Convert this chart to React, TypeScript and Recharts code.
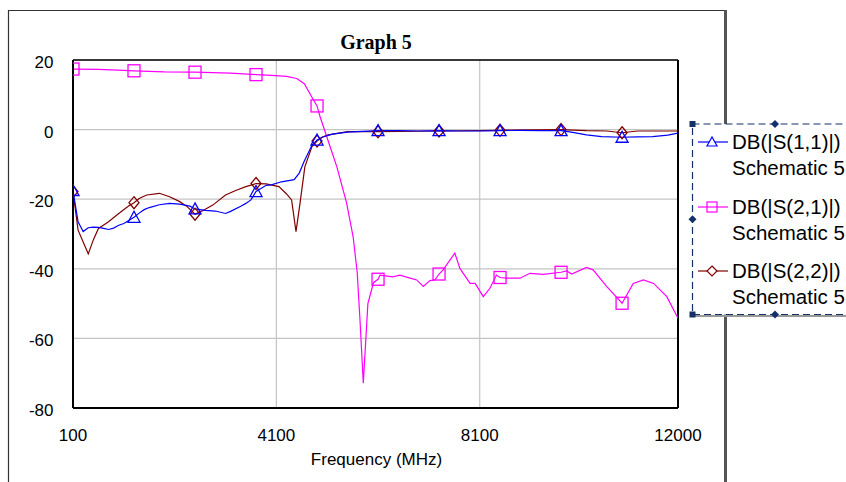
import React from "react";
import {
  LineChart,
  Line,
  XAxis,
  YAxis,
  CartesianGrid,
  ReferenceLine,
} from "recharts";

// frequencies (MHz) and dB values
const s11Freq = [
  100, 200, 300, 400, 500, 600, 700, 800, 900, 1000, 1100, 1300, 1400, 1500,
  1600, 1800, 2000, 2200, 2400, 2500, 2700, 2900, 3100, 3200, 3400, 3500, 3600,
  3700, 3900, 4000, 4200, 4450, 4550, 4650, 4800, 4900, 5000, 5200, 5500, 5800,
  6100, 6500, 6900, 7300, 7700, 8100, 8500, 8900, 9300, 9700, 9900, 10200,
  10500, 10900, 11200, 11500, 11800, 12000,
];
const s11Db = [
  -17.5, -26.5, -29.3, -28.2, -28, -28.1, -28.4, -28.7, -28.3, -27.5, -27,
  -25.2, -24, -23, -22.4, -21.6, -21.2, -21.4, -22, -22.8, -23.2, -23.4, -24.1,
  -23.5, -22, -21.2, -20.2, -17.8, -16, -15.9, -15, -14.4, -12.5, -9, -4.5, -3,
  -2.2, -1.3, -0.7, -0.5, -0.3, -0.3, -0.4, -0.3, -0.4, -0.4, -0.3, -0.2, -0.3,
  -0.3, -0.7, -1.5, -2, -2.2, -2.1, -2, -1.6, -1,
];

const s21Freq = [
  100, 600, 1100, 1300, 1900, 2500, 3200, 3700, 4000, 4300, 4500, 4650, 4830,
  4900, 4960, 5090, 5290, 5480, 5610, 5690, 5745, 5810, 5900, 6010, 6100, 6140,
  6390, 6530, 6730, 6860, 6990, 7120, 7220, 7300, 7380, 7610, 7710, 7910, 8010,
  8170, 8300, 8430, 8500, 8630, 8890, 9090, 9350, 9700, 9810, 9910, 10200,
  10330, 10600, 10900, 11120, 11320, 11520, 11780, 12000,
];
const s21Db = [
  17.4, 17.3, 17.0, 16.9, 16.6, 16.5, 16.2, 15.8, 15.6, 15.3, 14.7, 13.2, 8.5,
  6.8, 3.7, -2, -10.7, -21, -30.8, -41, -54.7, -72.9, -50, -44, -43, -41.8,
  -42.3, -41.8, -42.7, -43.2, -45.1, -43.4, -43.2, -41.5, -40.3, -35.5, -39.9,
  -44.2, -44.2, -48, -45.6, -41.8, -42.5, -42.7, -42.7, -41.3, -41.6, -41,
  -40.6, -41.5, -39.6, -40.3, -45.1, -49.9, -44.2, -43.2, -44.2, -48, -54.2,
];

const s22Freq = [
  100, 200, 400, 500, 600, 800, 1000, 1200, 1300, 1400, 1550, 1800, 2000, 2200,
  2350, 2500, 2650, 2850, 3100, 3300, 3500, 3700, 3900, 4150, 4300, 4400, 4486,
  4565, 4660, 4800, 4900, 5000, 5100, 5500, 6100, 7300, 8500, 9700, 10200,
  10600, 10900, 11200, 12000,
];
const s22Db = [
  -17.8, -28.9, -35.7, -31.7, -28.4, -26.5, -24.1, -21.9, -21, -19.8, -18.8,
  -18.3, -19.3, -20.7, -22.2, -24.3, -23.3, -21.7, -18.8, -17.5, -16.4, -15.5,
  -15.6, -16.4, -18.5, -20.2, -29.3, -21.2, -10.7, -4.9, -3.3, -2.2, -1.6, -0.6,
  -0.6, -0.4, -0.2, 0, -0.3, -0.4, -0.9, -0.4, -0.4,
];

const markerFreqs = [100, 1300, 2500, 3700, 4900, 6100, 7300, 8500, 9700, 10900];
const xTicks = [100, 4100, 8100, 12000];
const yTicks = [-80, -60, -40, -20, 0, 20];

const zip = (fs: number[], vs: number[]) => fs.map((f, i) => ({ f, v: vs[i] }));
const s11 = zip(s11Freq, s11Db);
const s21 = zip(s21Freq, s21Db);
const s22 = zip(s22Freq, s22Db);

const FONT = "'Liberation Sans', Arial, sans-serif";
const BLUE = "#0000ff";
const PINK = "#ff00ff";
const DARKRED = "#800000";
const NAVY = "#14306a";

type Shape = "tri" | "sq" | "dia";

function markerEl(shape: Shape, cx: number, cy: number, color: string, key?: string) {
  if (shape === "tri")
    return (
      <polygon key={key} points={`${cx},${cy - 6} ${cx - 6},${cy + 5} ${cx + 6},${cy + 5}`}
        fill="none" stroke={color} strokeWidth={1.3} />
    );
  if (shape === "sq")
    return (
      <rect key={key} x={cx - 6} y={cy - 6} width={12} height={12}
        fill="none" stroke={color} strokeWidth={1.3} />
    );
  return (
    <polygon key={key} points={`${cx},${cy - 6} ${cx + 5},${cy} ${cx},${cy + 6} ${cx - 5},${cy}`}
      fill="none" stroke={color} strokeWidth={1.3} />
  );
}

const makeDot = (shape: Shape, color: string) => (props: any) => {
  const { cx, cy, payload, index } = props;
  if (!markerFreqs.includes(payload.f)) return <g key={`n${index}`} />;
  return markerEl(shape, cx, cy, color, `m${index}`);
};

const YTick = ({ y, payload }: any) => (
  <text x={53.5} y={y + 8} textAnchor="end" fontSize={17} fontFamily={FONT} fill="#000">
    {payload.value}
  </text>
);

const XTick = ({ x, payload }: any) => (
  <text x={x} y={441} textAnchor="middle" fontSize={17} fontFamily={FONT} fill="#000">
    {payload.value}
  </text>
);

const legendItems = [
  { name: "DB(|S(1,1)|)", color: BLUE, shape: "tri" as Shape, y: 142 },
  { name: "DB(|S(2,1)|)", color: PINK, shape: "sq" as Shape, y: 207 },
  { name: "DB(|S(2,2)|)", color: DARKRED, shape: "dia" as Shape, y: 271 },
];

function Overlay() {
  const lx = 692.5;
  const top = 124;
  const bot = 314.5;
  return (
    <svg width={846} height={482} style={{ position: "absolute", left: 0, top: 0, pointerEvents: "none" }}>
      {/* outer frame */}
      <line x1={8} y1={10.5} x2={726} y2={10.5} stroke="#333" strokeWidth={1.2} />
      <line x1={8.5} y1={10} x2={8.5} y2={482} stroke="#333" strokeWidth={1.2} />
      <line x1={725.5} y1={10} x2={725.5} y2={482} stroke="#555" strokeWidth={3} />
      <text x={376} y={49} textAnchor="middle" fontSize={20} fontWeight="bold"
        fontFamily="'Liberation Serif', 'Times New Roman', serif">Graph 5</text>
      <text x={376.5} y={465} textAnchor="middle" fontSize={17} fontFamily={FONT}>
        Frequency (MHz)
      </text>
      {/* legend box */}
      <rect x={lx} y={top} width={200} height={bot - top} fill="#fff" />
      <line x1={lx} y1={bot + 1.5} x2={846} y2={bot + 1.5} stroke="#999" strokeWidth={2} />
      <rect x={lx} y={top} width={200} height={bot - top} fill="none" stroke={NAVY}
        strokeWidth={1.2} strokeDasharray="7 4" />
      {[top, bot].map((yy) => (
        <rect key={`c${yy}`} x={lx - 3} y={yy - 3} width={6} height={6} fill={NAVY} />
      ))}
      {[[775, top], [lx, (top + bot) / 2], [775, bot]].map(([hx, hy]) => (
        <polygon key={`h${hx}-${hy}`} points={`${hx},${hy - 4} ${hx + 4},${hy} ${hx},${hy + 4} ${hx - 4},${hy}`}
          fill={NAVY} />
      ))}
      {legendItems.map((it) => (
        <g key={it.name}>
          <line x1={698} y1={it.y} x2={728} y2={it.y} stroke={it.color} strokeWidth={1.2} />
          {it.shape === "tri"
            ? <polygon points={`712,${it.y - 5} 707,${it.y + 4} 717,${it.y + 4}`} fill="#fff" stroke={it.color} strokeWidth={1.2} />
            : it.shape === "sq"
            ? <rect x={707} y={it.y - 5} width={10} height={10} fill="none" stroke={it.color} strokeWidth={1.2} />
            : <polygon points={`712,${it.y - 5} 717,${it.y} 712,${it.y + 5} 707,${it.y}`} fill="#fff" stroke={it.color} strokeWidth={1.2} />}
          <text x={732} y={it.y + 7} fontSize={20.5} fontFamily={FONT} fill="#000">{it.name}</text>
          <text x={732} y={it.y + 33} fontSize={20.5} fontFamily={FONT} fill="#000">Schematic 5</text>
        </g>
      ))}
    </svg>
  );
}

export default function App() {
  return (
    <div style={{ position: "absolute", left: 0, top: 0, width: 846, height: 482, background: "#fff", overflow: "hidden" }}>
      <LineChart width={846} height={482} margin={{ top: 60, right: 168, bottom: 44, left: 8 }}>
        <CartesianGrid stroke="#c4c4c4" strokeWidth={1.2} />
        <XAxis
          type="number"
          dataKey="f"
          domain={[100, 12000]}
          ticks={xTicks}
          height={30}
          axisLine={{ stroke: "#000", strokeWidth: 2 }}
          tickLine={false}
          tick={<XTick />}
          allowDataOverflow
        />
        <YAxis
          type="number"
          domain={[-80, 20]}
          ticks={yTicks}
          width={65}
          axisLine={{ stroke: "#000", strokeWidth: 2 }}
          tickLine={false}
          tick={<YTick />}
          allowDataOverflow
        />
        <ReferenceLine y={20} stroke="#000" strokeWidth={1.5} />
        <ReferenceLine x={12000} stroke="#000" strokeWidth={2} />
        <Line data={s22} dataKey="v" type="linear" stroke={DARKRED} strokeWidth={1.2}
          dot={makeDot("dia", DARKRED)} activeDot={false} isAnimationActive={false} />
        <Line data={s21} dataKey="v" type="linear" stroke={PINK} strokeWidth={1.2}
          dot={makeDot("sq", PINK)} activeDot={false} isAnimationActive={false} />
        <Line data={s11} dataKey="v" type="linear" stroke={BLUE} strokeWidth={1.2}
          dot={makeDot("tri", BLUE)} activeDot={false} isAnimationActive={false} />
      </LineChart>
      <Overlay />
    </div>
  );
}
